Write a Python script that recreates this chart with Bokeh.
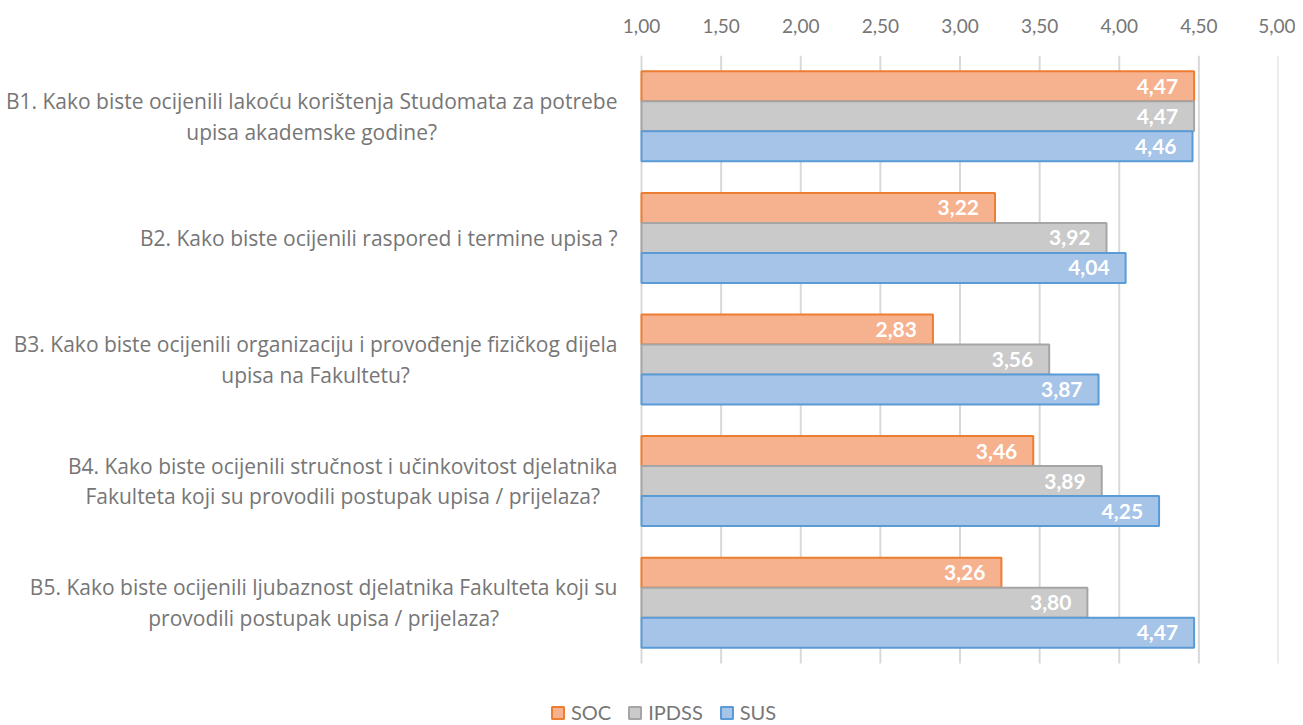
from bokeh.plotting import figure
from bokeh.models import (Range1d, FixedTicker, CustomJSTickFormatter,
                          Legend, LegendItem, ColumnDataSource)
from bokeh.transform import dodge
from bokeh.core.properties import value
from bokeh.embed import file_html
from bokeh.resources import INLINE

questions = [
    "B1. Kako biste ocijenili lakoću korištenja Studomata za potrebe\nupisa akademske godine?",
    "B2. Kako biste ocijenili raspored i termine upisa ?",
    "B3. Kako biste ocijenili organizaciju i provođenje fizičkog dijela\nupisa na Fakultetu?",
    "B4. Kako biste ocijenili stručnost i učinkovitost djelatnika\nFakulteta koji su provodili postupak upisa / prijelaza?",
    "B5. Kako biste ocijenili ljubaznost djelatnika Fakulteta koji su\nprovodili postupak upisa / prijelaza?",
]
series_names = ["SOC", "IPDSS", "SUS"]
soc = [4.47, 3.22, 2.83, 3.46, 3.26]
ipdss = [4.47, 3.92, 3.56, 3.89, 3.80]
sus = [4.46, 4.04, 3.87, 4.25, 4.47]
x_ticks = [1.0, 1.5, 2.0, 2.5, 3.0, 3.5, 4.0, 4.5, 5.0]

FONT = "Open Sans"
TEXT_GRAY = "#767676"
fills = ["#F6B18F", "#CACACA", "#A6C3E8"]
borders = ["#ED7D31", "#A5A5A5", "#5B9BD5"]

n = len(questions)
ypos = [n - 0.5 - i for i in range(n)]          # category centres, first on top
bar_h = 0.2467
offsets = [bar_h, 0.0, -bar_h]

# layout (pixels): value axis from px 641 (=1,00) to px 1278 (=5,00); groups from px 55 to 663
W, H = 1295, 724
TOP, BOTTOM = 55, 663
px_per_unit = (1278 - 641) / (x_ticks[-1] - x_ticks[0])
x_start = x_ticks[0] - 641 / px_per_unit
label_x = x_ticks[0] - 24 / px_per_unit
px_per_group = (BOTTOM - TOP) / n
y_start = -(H - BOTTOM) / px_per_group

p = figure(width=W, height=H, output_backend="svg", toolbar_location=None,
           x_range=Range1d(x_start, x_ticks[-1]), y_range=Range1d(y_start, n),
           x_axis_location="above",
           min_border_left=0, min_border_right=W - 1278, min_border_top=TOP,
           min_border_bottom=0)
p.outline_line_color = None
p.background_fill_color = "white"
p.yaxis.visible = False
p.xgrid.grid_line_color = None
p.ygrid.grid_line_color = None

# vertical gridlines at the value ticks, spanning the category area only
p.segment(x0=x_ticks, x1=x_ticks, y0=[0] * len(x_ticks), y1=[n] * len(x_ticks),
          line_color="#D9D9D9", line_width=2)

renderers = []
for vals, off, fc, lc in zip([soc, ipdss, sus], offsets, fills, borders):
    src = ColumnDataSource(dict(y=ypos, v=vals,
                                lbl=[f"{v:.2f}".replace(".", ",") for v in vals]))
    r = p.hbar(y=dodge("y", off), left=x_ticks[0], right="v", height=bar_h,
               fill_color=fc, line_color=lc, line_width=2, source=src)
    renderers.append(r)
    p.text(x="v", y=dodge("y", off), text="lbl", source=src,
           x_offset=-16, text_align="right", text_baseline="middle",
           text_color="white", text_font=value("Lato"), text_font_style="bold",
           text_font_size="21px")

# category labels: right-aligned block, lines centred
qsrc = ColumnDataSource(dict(y=ypos, t=questions, x=[label_x] * n))
p.text(x="x", y="y", text="t", source=qsrc, anchor="center_right", text_align="center",
       text_baseline="middle", text_color=TEXT_GRAY, text_font=value(FONT),
       text_font_size="21px", text_line_height=1.1)

# value axis (top)
xa = p.xaxis[0]
xa.ticker = FixedTicker(ticks=x_ticks)
xa.formatter = CustomJSTickFormatter(code="return tick.toFixed(2).replace('.', ',');")
xa.axis_line_color = None
xa.major_tick_line_color = None
xa.minor_tick_line_color = None
xa.major_tick_out = 0
xa.major_label_standoff = 23
xa.major_label_text_font = "Lato"
xa.major_label_text_font_size = "19px"
xa.major_label_text_color = TEXT_GRAY

legend = Legend(items=[LegendItem(label=s, renderers=[r]) for s, r in zip(series_names, renderers)],
                orientation="horizontal", location=(550, 0),
                background_fill_alpha=0, border_line_color=None,
                padding=0, margin=0, spacing=16, label_standoff=6,
                glyph_width=15, glyph_height=15,
                label_text_font="Lato", label_text_font_size="20px",
                label_text_color=TEXT_GRAY)
p.add_layout(legend)

open("out.html", "w").write(file_html(p, INLINE))
